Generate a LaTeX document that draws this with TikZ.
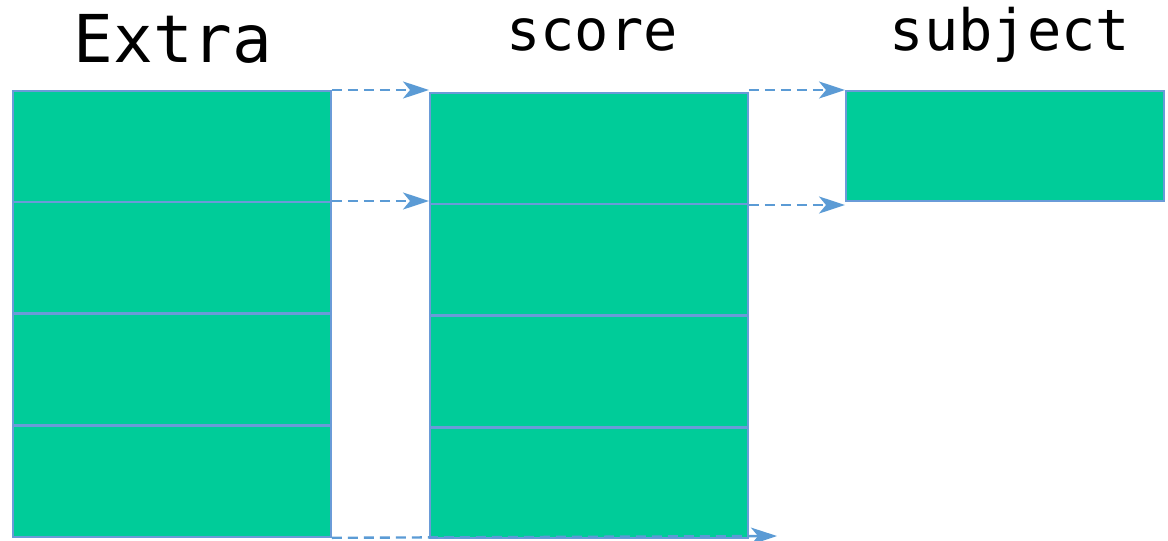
\documentclass[tikz,border=0pt]{standalone}
\usepackage{fontspec}
\setmonofont{DejaVu Sans Mono}
\usetikzlibrary{arrows.meta}
\definecolor{boxfill}{HTML}{00CC99}
\definecolor{boxline}{HTML}{6A9BD8}
\definecolor{arr}{HTML}{5B9BD5}
\tikzset{
  cell/.style={draw=boxline, line width=1.8pt, fill=boxfill, minimum width=318pt, minimum height=111pt, inner sep=0pt, anchor=north west},
  link/.style={draw=arr, line width=2.4pt, dash pattern=on 10pt off 6pt, -{Stealth[length=26pt,width=17pt,inset=7pt]}},
  title/.style={font=\ttfamily, anchor=base, inner sep=0pt}
}
\begin{document}
\begin{tikzpicture}[x=1pt,y=-1pt]
\useasboundingbox (0,0) rectangle (1168,541);
% left column
\node[cell] (a1) at (12,90) {};
\node[cell] (a2) at (12,201) {};
\node[cell] (a3) at (12,313) {};
\node[cell] (a4) at (12,425) {};
% middle column
\node[cell] (b1) at (429,92) {};
\node[cell] (b2) at (429,203) {};
\node[cell] (b3) at (429,315) {};
\node[cell, minimum height=110pt] (b4) at (429,427) {};
% right
\node[cell, minimum height=110pt] (c1) at (845,90) {};
% titles
\node[title, font=\ttfamily\fontsize{66}{70}\selectfont] (t1) at (173,62) {Extra};
\node[title, font=\ttfamily\fontsize{57}{62}\selectfont] (t2) at (592,50) {score};
\node[title, font=\ttfamily\fontsize{57}{62}\selectfont] (t3) at (1010,50) {subject};
% arrows
\coordinate (e5) at (777,536);
\draw[link] (a1.north east) -- (b1.north west |- a1.north east);
\draw[link] (a2.north east) -- (b2.north west |- a2.north east);
\draw[link] (b1.north east |- c1.north west) -- (c1.north west);
\draw[link] (b2.north east) ++(0,2) coordinate (s4) (s4) -- (c1.south west |- s4);
\draw[link] (a4.south east) -- (e5);
\end{tikzpicture}
\end{document}
